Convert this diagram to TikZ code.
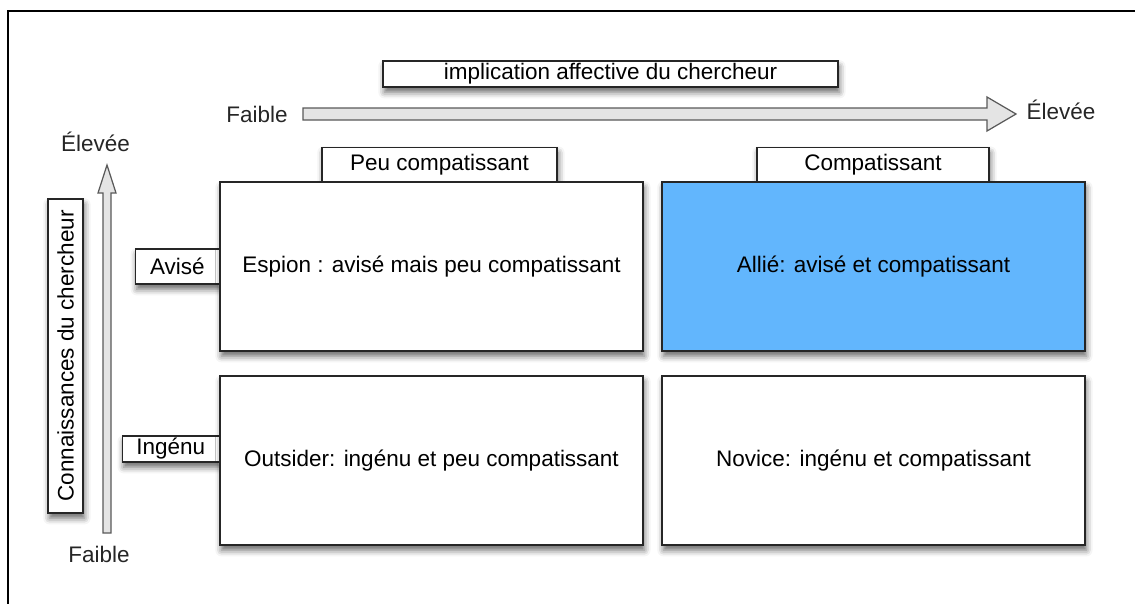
\documentclass[tikz,border=0pt]{standalone}
\usepackage{fontspec}
\setmainfont{Liberation Sans}
\usetikzlibrary{positioning,calc,shadows.blur}

\definecolor{allieblue}{RGB}{98,182,253}
\definecolor{arrowgray}{RGB}{228,228,228}

\tikzset{
    box/.style={draw=black!85, line width=0.8pt, fill=white, inner sep=0pt,
        blur shadow={shadow xshift=0.8pt, shadow yshift=-3pt,
            shadow blur radius=3.5pt, shadow opacity=60}},
    cell/.style={box, minimum width=8.46cm, minimum height=3.38cm},
    tab/.style={box, minimum height=0.68cm},
    hollowarrow/.style={draw=black!65, fill=arrowgray, line width=0.7pt},
    txt/.style={text=black!85}
}

\begin{document}
\begin{tikzpicture}[x=0.02cm, y=-0.02cm, font=\fontsize{12.8}{15}\selectfont]
    \useasboundingbox (0,0) rectangle (1135,603);
    \draw[line width=0.8pt] (8,11) rectangle (1300,800);

    % tabs first, so that the cells cover their shadows
    \node[tab, minimum width=9.1cm, minimum height=0.52cm] (implication) at (610.5,74) {implication affective du chercheur};
    \node[tab, minimum width=4.7cm, anchor=south] (peu) at (439.5,182) {Peu compatissant};
    \node[tab, minimum width=4.64cm, anchor=south] (compat) at (873,182) {Compatissant};
    \node[tab, minimum width=1.68cm, minimum height=0.7cm, anchor=east] (avise) at (220,266.5) {Avisé};
    \node[tab, minimum width=1.94cm, minimum height=0.52cm, anchor=east] (ingenu) at (220,449) {Ingénu};
    \node[tab, rotate=90, minimum width=6.28cm, minimum height=0.7cm] (connaissances) at (65.5,356) {Connaissances du chercheur};

    % the four cells
    \node[cell] (espion) at (431.5,266.5) {Espion : avisé mais peu compatissant};
    \node[cell, fill=allieblue] (allie) at (873.5,266.5) {Allié: avisé et compatissant};
    \node[cell] (outsider) at (431.5,460.5) {Outsider: ingénu et peu compatissant};
    \node[cell] (novice) at (873.5,460.5) {Novice: ingénu et compatissant};

    % axis labels
    \node[txt] (faibleH) at (257,114) {Faible};
    \node[txt] (eleveeH) at (1061,110) {Élevée};
    \node[txt] (eleveeV) at (95.5,142) {Élevée};
    \node[txt] (faibleV) at (99,554) {Faible};

    % hollow arrows
    \coordinate (hstart) at (303,114);
    \coordinate (htip) at (1016,114);
    \draw[hollowarrow] ($(hstart)+(0,-6)$) -- ($(htip)+(-29,-6)$) -- ($(htip)+(-29,-17)$)
        -- (htip) -- ($(htip)+(-29,17)$) -- ($(htip)+(-29,6)$) -- ($(hstart)+(0,6)$) -- cycle;
    \coordinate (vstart) at (107,533);
    \coordinate (vtip) at (107,165);
    \draw[hollowarrow] ($(vstart)+(-4,0)$) -- ($(vtip)+(-4,28)$) -- ($(vtip)+(-9,28)$)
        -- (vtip) -- ($(vtip)+(9,28)$) -- ($(vtip)+(4,28)$) -- ($(vstart)+(4,0)$) -- cycle;
\end{tikzpicture}
\end{document}
